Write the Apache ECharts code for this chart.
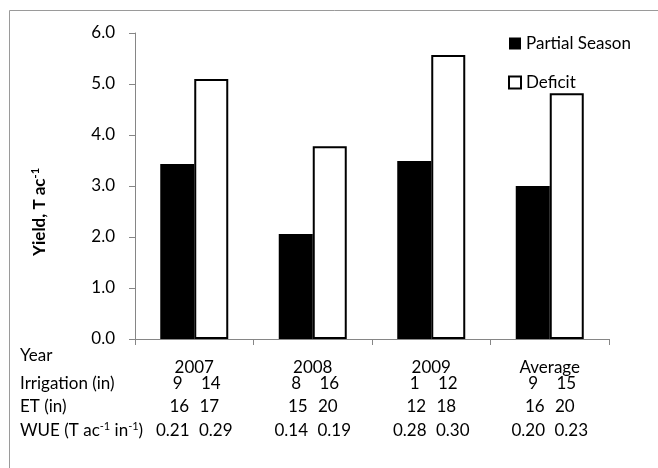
<!DOCTYPE html>
<html>
<head>
<meta charset="utf-8">
<script src="https://cdn.jsdelivr.net/npm/echarts@6/dist/echarts.min.js"></script>
<style>
  html, body { margin: 0; padding: 0; background: #fff; }
  #chart { width: 658px; height: 468px; }
</style>
</head>
<body>
<div id="chart"></div>
<script>
// Yield by season and irrigation strategy
const categories = ['2007', '2008', '2009', 'Average'];
const partialSeason = [3.43, 2.06, 3.49, 3.00];
const deficit = [5.10, 3.78, 5.57, 4.82];
const yTicks = [0, 1, 2, 3, 4, 5, 6];

// Table rows under the axis: [Partial Season, Deficit] per category
const irrigation = [[9, 14], [8, 16], [1, 12], [9, 15]];
const et = [[16, 17], [15, 20], [12, 18], [16, 20]];
const wue = [['0.21', '0.29'], ['0.14', '0.19'], ['0.28', '0.30'], ['0.20', '0.23']];
const rowLabels = ['Year', 'Irrigation (in)', 'ET (in)', 'WUE'];

const FONT = 'Lato';
const FS = 17;

const chart = echarts.init(document.getElementById('chart'), null, { renderer: 'canvas' });

// row label column on the left of the table
const rowY = [356, 384, 407, 431];
const leftLabels = rowLabels.map((t, i) => {
  const txt = i === 3 ? '{t|WUE (T ac}{s|-1}{t| in}{s|-1}{t|)}' : '{t|' + t + '}';
  return {
    type: 'text',
    x: 20,
    y: rowY[i],
    style: {
      text: txt,
      fill: '#000',
      verticalAlign: 'middle',
      rich: {
        t: { fontFamily: FONT, fontSize: FS, lineHeight: 20, fill: '#000' },
        s: { fontFamily: FONT, fontSize: 11, lineHeight: 11, verticalAlign: 'top', fill: '#000' }
      }
    },
    silent: true
  };
});

// rotated axis title
const yTitle = {
  type: 'text',
  x: 40,
  y: 212,
  rotation: Math.PI / 2,
  style: {
    text: '{b|Yield, T ac}{s|-1}',
    align: 'center',
    verticalAlign: 'middle',
    rich: {
      b: { fontFamily: FONT, fontSize: FS, fontWeight: 'bold', lineHeight: 20, fill: '#000' },
      s: { fontFamily: FONT, fontSize: 11, fontWeight: 'bold', lineHeight: 11, verticalAlign: 'top', fill: '#000' }
    }
  },
  silent: true
};

const option = {
  animation: false,
  backgroundColor: '#fff',
  textStyle: { fontFamily: FONT },
  grid: { left: 135, right: 49, top: 33, bottom: 129, containLabel: false },
  legend: {
    orient: 'vertical',
    left: 508,
    top: 35,
    padding: 0,
    itemWidth: 12,
    itemHeight: 12,
    itemGap: 22,
    icon: 'rect',
    textStyle: { fontFamily: FONT, fontSize: FS, color: '#000' },
    data: ['Partial Season', 'Deficit']
  },
  xAxis: {
    type: 'category',
    data: categories,
    axisLine: { lineStyle: { color: '#868686', width: 1 } },
    axisTick: { show: true, length: 6, lineStyle: { color: '#868686' } },
    axisLabel: {
      margin: 23,
      color: '#000',
      interval: 0,
      formatter: function (value, idx) {
        return '{y|' + value + '}\n' +
          '{i|' + irrigation[idx][0] + '}{i|' + irrigation[idx][1] + '}\n' +
          '{e|' + et[idx][0] + '}{e|' + et[idx][1] + '}\n' +
          '{w|' + wue[idx][0] + '}{w|' + wue[idx][1] + '}';
      },
      rich: {
        y: { fontFamily: FONT, fontSize: FS, lineHeight: 12, color: '#000' },
        i: { fontFamily: FONT, fontSize: FS, lineHeight: 20, width: 33, align: 'center', color: '#000' },
        e: { fontFamily: FONT, fontSize: FS, lineHeight: 26, width: 30, align: 'center', color: '#000' },
        w: { fontFamily: FONT, fontSize: FS, lineHeight: 22, width: 43, align: 'center', color: '#000' }
      }
    }
  },
  yAxis: {
    type: 'value',
    min: yTicks[0],
    max: yTicks[yTicks.length - 1],
    interval: 1,
    axisLine: { show: true, lineStyle: { color: '#868686', width: 1 } },
    axisTick: { show: true, length: 6, inside: false, lineStyle: { color: '#868686' } },
    splitLine: { show: false },
    axisLabel: {
      margin: 20,
      color: '#000',
      fontFamily: FONT,
      fontSize: FS,
      formatter: v => v.toFixed(1)
    }
  },
  series: [
    {
      name: 'Partial Season',
      type: 'bar',
      data: partialSeason,
      barWidth: 34,
      barGap: '0%',
      itemStyle: { color: '#000', borderColor: '#000', borderWidth: 0 }
    },
    {
      name: 'Deficit',
      type: 'bar',
      data: deficit,
      barWidth: 34,
      itemStyle: { color: '#fff', borderColor: '#000', borderWidth: 2 }
    }
  ],
  graphic: [
    {
      type: 'rect',
      left: 7,
      top: 8,
      shape: { x: 0, y: 0, width: 700, height: 520 },
      style: { fill: 'none', stroke: '#9a9a9a', lineWidth: 1 },
      silent: true,
      z: -1
    },
    yTitle
  ].concat(leftLabels)
};

chart.setOption(option);
</script>
</body>
</html>
